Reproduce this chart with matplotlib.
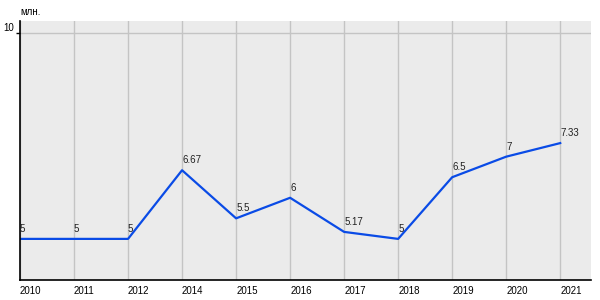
import matplotlib
matplotlib.use("Agg")
import matplotlib.pyplot as plt

years = ["2010", "2011", "2012", "2014", "2015", "2016", "2017", "2018", "2019", "2020", "2021"]
values = [5, 5, 5, 6.67, 5.5, 6, 5.17, 5, 6.5, 7, 7.33]
labels = ["5", "5", "5", "6.67", "5.5", "6", "5.17", "5", "6.5", "7", "7.33"]
y_ticks = [10]
y_unit = "млн."

plt.rcParams['font.family'] = ['Liberation Sans', 'DejaVu Sans']

fig = plt.figure(figsize=(6, 3), dpi=100)
ax = fig.add_axes([20/600, 1 - 280/300, (591-20)/600, (280-21)/300])
ax.set_facecolor('#ebebeb')
x = list(range(len(years)))
ax.plot(x, values, color='#0a4be6', lw=1.6, solid_joinstyle='round')
for xi, v, lab in zip(x, values, labels):
    ax.annotate(lab, (xi, v), xytext=(0, 3.5), textcoords='offset points',
                ha='left', va='bottom', fontsize=7, color='#222222')

ax.set_xlim(0, 10.57)
ax.set_ylim(4.0, 10.3)
ax.set_xticks(x)
ax.set_xticklabels(years, fontsize=7, ha='left')
ax.set_yticks(y_ticks)
ax.set_yticklabels([str(t) for t in y_ticks], fontsize=7, va='bottom')
ax.tick_params(axis='x', length=0, pad=4)
ax.tick_params(axis='y', length=3, pad=1, width=1)
ax.grid(True, color='#c4c4c4', lw=1)
ax.set_axisbelow(True)
for s in ['top', 'right']:
    ax.spines[s].set_visible(False)
for s in ['left', 'bottom']:
    ax.spines[s].set_color('black')
    ax.spines[s].set_linewidth(1.2)
fig.text(20/600, 1 - 12/300, y_unit, fontsize=7, ha='left', va='center')
fig.savefig('out.png', dpi=100)
